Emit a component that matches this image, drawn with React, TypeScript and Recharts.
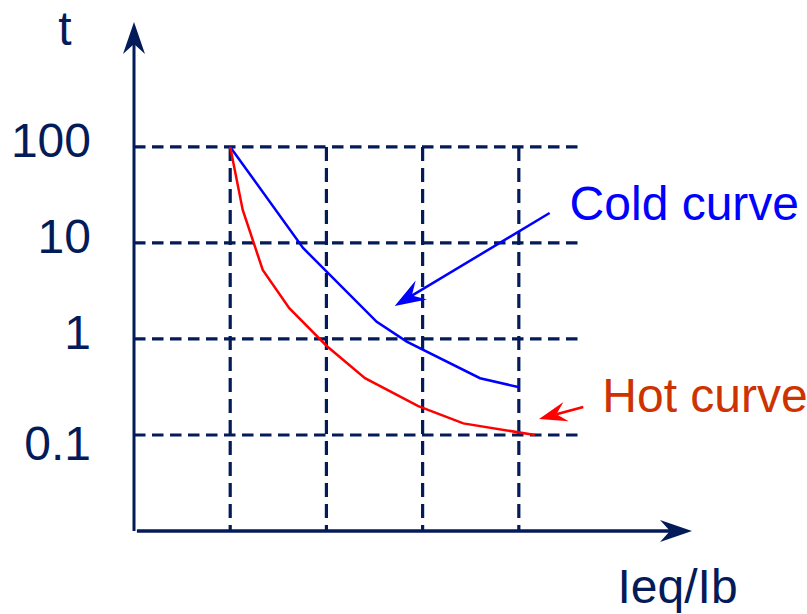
import { LineChart, Line, XAxis, YAxis, ReferenceLine } from "recharts";

const NAVY = "#041b59";
const FONT = "'Liberation Sans', Arial, sans-serif";

// axis ticks (log scale for t)
const T_TICKS = [0.1, 1, 10, 100];
const T_LABELS = ["0.1", "1", "10", "100"];
const X_GRID = [1, 2, 3, 4];

// Ieq/Ib on x, t on y (log)
const coldX = [1, 1.757, 2.523, 2.835, 3.597, 4.005];
const coldT = [100, 8.87, 1.51, 0.94, 0.39, 0.314];
const hotX = [1, 1.13, 1.338, 1.614, 2.003, 2.401, 2.955, 3.423, 4.168];
const hotT = [100, 22.1, 5.23, 2.09, 0.845, 0.39, 0.2, 0.132, 0.1];

// annotation arrows: [from, to] in data coords
const coldArrow = [
  { x: 4.32, y: 20.5 },
  { x: 2.71, y: 2.21 },
];
const hotArrow = [
  { x: 4.67, y: 0.196 },
  { x: 4.21, y: 0.147 },
];

const X_DOMAIN: [number, number] = [0, 5.8];
const T_DOMAIN: [number, number] = [0.01, 2000];

const coldData = coldX.map((x, i) => ({ x, t: coldT[i] }));
const hotData = hotX.map((x, i) => ({ x, t: hotT[i] }));

/** line with a stealth arrowhead at (x2, y2), optional text near the start */
function arrowShape(opts: { len: number; half: number; notch: number; width: number; text?: string; textColor?: string; dx?: number; dy?: number }) {
  return (props: any) => {
    const { x1, y1, x2, y2, stroke } = props;
    const dxl = x2 - x1;
    const dyl = y2 - y1;
    const l = Math.sqrt(dxl * dxl + dyl * dyl) || 1;
    const ux = dxl / l;
    const uy = dyl / l;
    const nx = -uy;
    const ny = ux;
    const bx = x2 - opts.len * ux;
    const by = y2 - opts.len * uy;
    const mx = x2 - opts.notch * ux;
    const my = y2 - opts.notch * uy;
    const pts = [
      `${x2},${y2}`,
      `${bx + opts.half * nx},${by + opts.half * ny}`,
      `${mx},${my}`,
      `${bx - opts.half * nx},${by - opts.half * ny}`,
    ].join(" ");
    return (
      <g>
        <line x1={x1} y1={y1} x2={mx} y2={my} stroke={stroke} strokeWidth={opts.width} />
        <polygon points={pts} fill={stroke} />
        {opts.text && (
          <text
            x={x1 + (opts.dx ?? 0)}
            y={y1 + (opts.dy ?? 0)}
            fontSize={48}
            fontFamily={FONT}
            fill={opts.textColor}
          >
            {opts.text}
          </text>
        )}
      </g>
    );
  };
}

const YTick = (props: any) => {
  const { x, y, payload } = props;
  const i = T_TICKS.indexOf(payload.value);
  const shift = payload.value === 0.1 ? 25 : 10;
  return (
    <text x={x} y={y + shift} textAnchor="end" fontSize={48} fontFamily={FONT} fill={NAVY}>
      {i >= 0 ? T_LABELS[i] : String(payload.value)}
    </text>
  );
};

const YLabel = (props: any) => {
  const vb = props.viewBox ?? { x: 0, y: 22 };
  return (
    <text x={vb.x + 65} y={vb.y + 23} textAnchor="middle" fontSize={48} fontFamily={FONT} fill={NAVY}>
      t
    </text>
  );
};

const XLabel = (props: any) => {
  const vb = props.viewBox ?? { x: 134, y: 531 };
  return (
    <text x={vb.x + 483.5} y={vb.y + 72} fontSize={48} fontFamily={FONT} fill={NAVY}>
      Ieq/Ib
    </text>
  );
};

export default function App() {
  return (
    <div style={{ position: "absolute", left: 0, top: 0, width: 807, height: 614, background: "#fff" }}>
      <LineChart width={807} height={614} margin={{ top: 22, right: 115, left: 0, bottom: 0 }}>
        <XAxis
          dataKey="x"
          type="number"
          domain={X_DOMAIN}
          allowDataOverflow
          tick={false}
          tickLine={false}
          axisLine={false}
          height={83}
          label={<XLabel />}
        />
        <YAxis
          type="number"
          scale="log"
          domain={T_DOMAIN}
          allowDataOverflow
          ticks={T_TICKS}
          tick={<YTick />}
          tickLine={false}
          tickSize={0}
          tickMargin={43}
          axisLine={false}
          width={134}
          label={<YLabel />}
        />

        {/* dashed grid */}
        {T_TICKS.map((v) => (
          <ReferenceLine
            key={`h${v}`}
            segment={[
              { x: 0, y: v },
              { x: 4.64, y: v },
            ]}
            stroke={NAVY}
            strokeWidth={3.2}
            strokeDasharray="11.5 6.5"
            ifOverflow="visible"
          />
        ))}
        {X_GRID.map((v) => (
          <ReferenceLine
            key={`v${v}`}
            segment={[
              { x: v, y: 100 },
              { x: v, y: T_DOMAIN[0] },
            ]}
            stroke={NAVY}
            strokeWidth={3.2}
            strokeDasharray="14 7"
            ifOverflow="visible"
          />
        ))}

        {/* axes with arrows */}
        <ReferenceLine
          segment={[
            { x: 0, y: T_DOMAIN[0] },
            { x: 0, y: T_DOMAIN[1] },
          ]}
          stroke={NAVY}
          ifOverflow="visible"
          shape={arrowShape({ len: 32, half: 11, notch: 22, width: 3 })}
        />
        <ReferenceLine
          segment={[
            { x: 0.03, y: T_DOMAIN[0] },
            { x: X_DOMAIN[1], y: T_DOMAIN[0] },
          ]}
          stroke={NAVY}
          ifOverflow="visible"
          shape={arrowShape({ len: 32, half: 11, notch: 22, width: 3.4 })}
        />

        <Line
          data={coldData}
          dataKey="t"
          type="linear"
          stroke="#0000ff"
          strokeWidth={2.5}
          dot={false}
          isAnimationActive={false}
        />
        <Line
          data={hotData}
          dataKey="t"
          type="linear"
          stroke="#ff0000"
          strokeWidth={2.5}
          dot={false}
          isAnimationActive={false}
        />

        {/* annotations */}
        <ReferenceLine
          segment={coldArrow}
          stroke="#0000ff"
          ifOverflow="visible"
          shape={arrowShape({ len: 31, half: 11, notch: 20, width: 2.5, text: "Cold curve", textColor: "#0000ff", dx: 20, dy: 7 })}
        />
        <ReferenceLine
          segment={hotArrow}
          stroke="#ff0000"
          ifOverflow="visible"
          shape={arrowShape({ len: 28, half: 10, notch: 18, width: 2.5, text: "Hot curve", textColor: "#cc3300", dx: 19, dy: 5 })}
        />
      </LineChart>
    </div>
  );
}
